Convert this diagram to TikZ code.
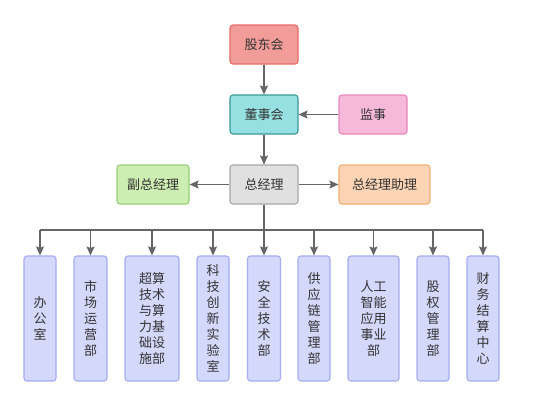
\documentclass[tikz,border=0pt]{standalone}
\usepackage{fontspec}
\setmainfont{Noto Sans CJK SC}
\usetikzlibrary{arrows.meta}
\definecolor{txt}{HTML}{333333}
\definecolor{ln}{HTML}{666666}
\definecolor{redF}{HTML}{F19C99}\definecolor{redD}{HTML}{EA6B66}
\definecolor{tealF}{HTML}{96E0E1}\definecolor{tealD}{HTML}{3A9A9A}
\definecolor{pinkF}{HTML}{F6B9DA}\definecolor{pinkD}{HTML}{EA87BF}
\definecolor{grayF}{HTML}{E0E0E0}\definecolor{grayD}{HTML}{A8A8A8}
\definecolor{greenF}{HTML}{CDEEB2}\definecolor{greenD}{HTML}{97D077}
\definecolor{orangeF}{HTML}{FAD4B4}\definecolor{orangeD}{HTML}{F2AE72}
\definecolor{blueF}{HTML}{D4D8FA}\definecolor{blueD}{HTML}{A4ADF0}
\begin{document}
\begin{tikzpicture}[x=1pt,y=-1pt,
  box/.style={rounded corners=3pt, line width=1.1pt, text=txt, inner sep=0pt,
    font=\fontsize{13}{16}\selectfont, align=center, minimum height=39pt},
  topbox/.style={box, minimum width=68pt},
  dept/.style={box, fill=blueF, draw=blueD, minimum height=125pt},
  arr/.style={draw=ln, line width=1.5pt, -{Stealth[length=9pt,width=8pt,inset=1.5pt]}},
  ln/.style={draw=ln, line width=1.5pt}]
\useasboundingbox[fill=white] (0,0) rectangle (534,405);
\node[topbox, fill=redF, draw=redD] (gd) at (264,44.5) {股东会};
\node[topbox, fill=tealF, draw=tealD] (dsh) at (264,114.5) {董事会};
\node[topbox, fill=pinkF, draw=pinkD] (js) at (373,114.5) {监事};
\node[topbox, fill=grayF, draw=grayD] (zjl) at (264,184.5) {总经理};
\node[box, fill=greenF, draw=greenD, minimum width=72pt] (fz) at (153,184.5) {副总经理};
\node[box, fill=orangeF, draw=orangeD, minimum width=91pt] (zl) at (384.5,184.5) {总经理助理};

\node[dept, minimum width=32pt] (b1) at (40,318.5) {办\\公\\室};
\node[dept, minimum width=33pt] (b2) at (90.5,318.5) {市\\场\\运\\营\\部};
\node[dept, minimum width=54pt] (b3) at (152,318.5) {超算\\技术\\与算\\力基\\础设\\施部};
\node[dept, minimum width=32pt] (b4) at (213,318.5) {科\\技\\创\\新\\实\\验\\室};
\node[dept, minimum width=33pt] (b5) at (264,318.5) {安\\全\\技\\术\\部};
\node[dept, minimum width=32pt] (b6) at (314,318.5) {供\\应\\链\\管\\理\\部};
\node[dept, minimum width=51pt] (b7) at (373.5,318.5) {人工\\智能\\应用\\事业\\部};
\node[dept, minimum width=32pt] (b8) at (433,318.5) {股\\权\\管\\理\\部};
\node[dept, minimum width=32pt] (b9) at (483,318.5) {财\\务\\结\\算\\中\\心};

\coordinate (bus) at (0,230);
\draw[arr] (gd) -- (dsh);
\draw[arr] (dsh) -- (zjl);
\draw[arr] (js) -- (dsh);
\draw[arr] (zjl) -- (fz);
\draw[arr] (zjl) -- (zl);
\draw[ln] (zjl.south) -- (zjl.south |- bus);
\draw[ln] (b1.north |- bus) -- (b9.north |- bus);
\foreach \b in {b1,b2,b3,b4,b5,b6,b7,b8,b9}
  \draw[arr] (\b.north |- bus) -- (\b.north);
\end{tikzpicture}
\end{document}
